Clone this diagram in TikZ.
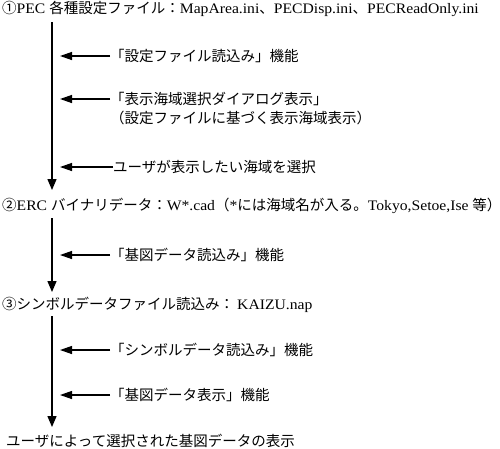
\documentclass[tikz,border=0pt]{standalone}
\usepackage{fontspec}
\setmainfont[FakeStretch=1.08]{Liberation Serif}
\newfontfamily\jp{Noto Sans CJK JP}
\usetikzlibrary{arrows.meta}
\begin{document}
\begin{tikzpicture}[x=1pt,y=-1pt,
  lbl/.style={anchor=west,inner sep=0pt,font=\fontsize{14.5}{17}\selectfont},
  flow/.style={line width=1.3pt,-{Triangle[length=11pt,width=9pt]}},
  harrow/.style={line width=1.3pt,-{Triangle[length=12pt,width=8pt]}}]
\useasboundingbox (0,0) rectangle (500,448);
\coordinate (hx) at (60,0);
% section 1
\node[lbl] (t1) at (2,9) {{\jp ①}PEC {\jp 各種設定ファイル：}MapArea.ini{\jp 、}PECDisp.ini{\jp 、}PECReadOnly.ini};
\coordinate (v1s) at (52,22);
\coordinate (v1e) at (52,190);
\draw[flow] (v1s) -- (v1e);
\node[lbl] (l1) at (110,56) {\jp 「設定ファイル読込み」機能};
\node[lbl] (l2) at (110,99) {\jp 「表示海域選択ダイアログ表示」};
\node[lbl] (l2b) at (110,118) {\jp （設定ファイルに基づく表示海域表示）};
\node[lbl] (l3) at (113,167) {\jp ユーザが表示したい海域を選択};
\draw[harrow] (l1.west) -- (l1.west -| hx);
\draw[harrow] (l2.west) -- (l2.west -| hx);
\draw[harrow] (l3.west) -- (l3.west -| hx);
% section 2
\node[lbl] (t2) at (2,206) {{\jp ②}ERC {\jp バイナリデータ：}W*.cad{\jp （}*{\jp には海域名が入る。}Tokyo,Setoe,Ise {\jp 等）}};
\coordinate (v2s) at (52,218);
\coordinate (v2e) at (52,292);
\draw[flow] (v2s) -- (v2e);
\node[lbl] (l4) at (110,255) {\jp 「基図データ読込み」機能};
\draw[harrow] (l4.west) -- (l4.west -| hx);
% section 3
\node[lbl] (t3) at (2,305) {{\jp ③シンボルデータファイル読込み}{\jp ：}\hspace{3pt}KAIZU.nap};
\coordinate (v3s) at (52,316);
\coordinate (v3e) at (52,427);
\draw[flow] (v3s) -- (v3e);
\node[lbl] (l5) at (110,350) {\jp 「シンボルデータ読込み」機能};
\node[lbl] (l6) at (110,395) {\jp 「基図データ表示」機能};
\draw[harrow] (l5.west) -- (l5.west -| hx);
\draw[harrow] (l6.west) -- (l6.west -| hx);
% result
\node[lbl] (t4) at (6,441) {\jp ユーザによって選択された基図データの表示};
\end{tikzpicture}
\end{document}
